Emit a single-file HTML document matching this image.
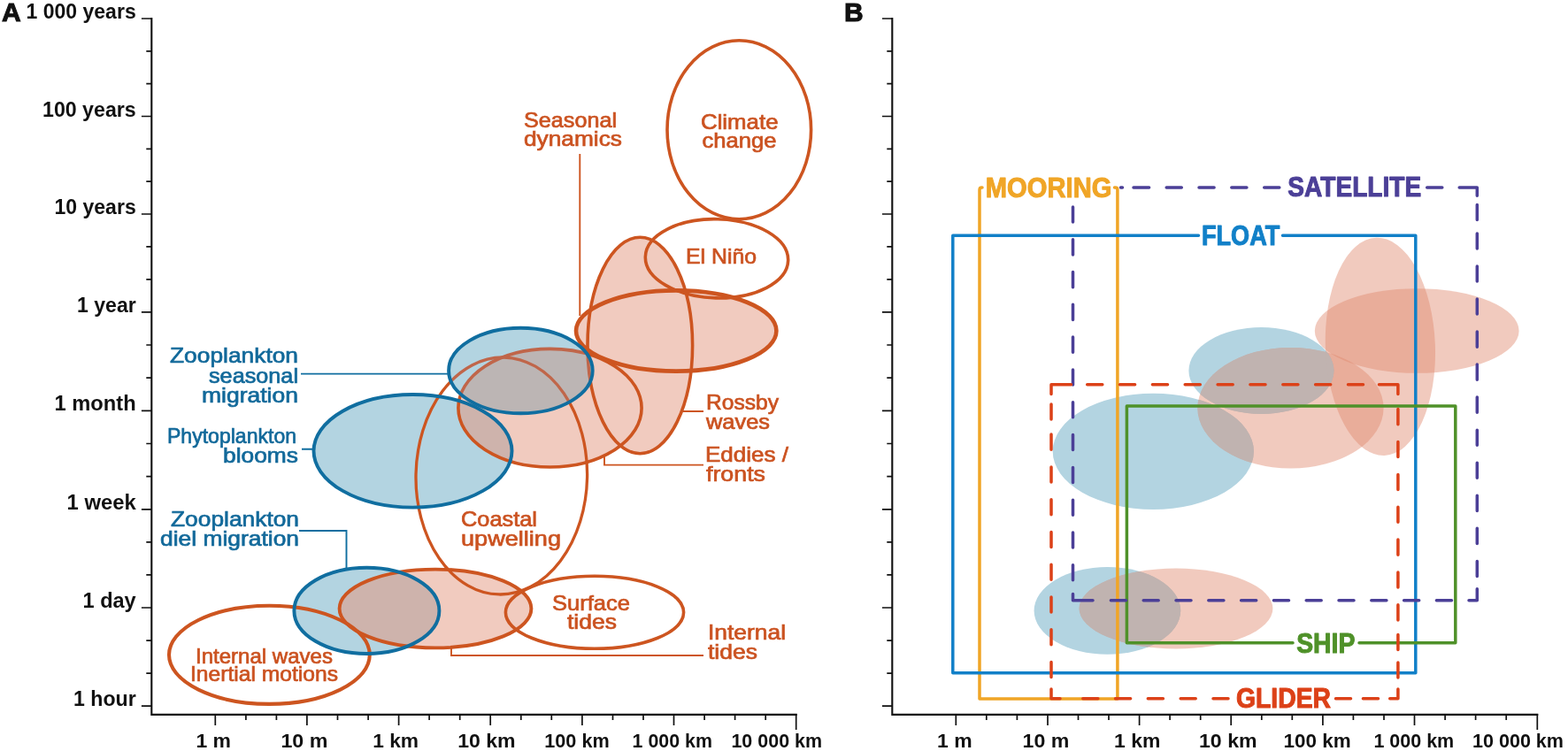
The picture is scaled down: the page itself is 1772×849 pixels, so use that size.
<!DOCTYPE html>
<html lang="en"><head><meta charset="utf-8"><title>Ocean processes and observing platforms: time and space scales</title>
<style>
html,body{margin:0;padding:0;background:#fff;}
body{width:1772px;height:849px;overflow:hidden;font-family:"Liberation Sans",sans-serif;}
svg{display:block;position:absolute;left:0;top:0;}
text{font-family:"Liberation Sans",sans-serif;white-space:pre;}
.ax{font-size:23px;font-weight:bold;fill:#111;}
.axx{font-size:21.2px;font-weight:bold;fill:#111;}
.pl{font-size:30px;font-weight:bold;fill:#111;stroke:#111;stroke-width:1px;}
.o{font-size:24px;fill:#cb5220;stroke:#cb5220;stroke-width:.7px;}
.b{font-size:24px;fill:#12699a;stroke:#12699a;stroke-width:.7px;}
.cap{font-size:30.5px;font-weight:bold;stroke-width:1px;stroke-linejoin:round;}
</style></head><body>
<svg width="1772" height="849" viewBox="0 0 1772 849">
<rect width="1772" height="849" fill="#fff"/>
<g id="panelA">
<path d="M171.3 20.0V807.9H900.7" fill="none" stroke="#111" stroke-width="2.1"/>
<path d="M159.9 21.0H171.3M165.3 57.8H171.3M165.3 94.7H171.3M159.9 131.5H171.3M165.3 168.3H171.3M165.3 205.2H171.3M159.9 242.0H171.3M165.3 278.9H171.3M165.3 315.9H171.3M159.9 352.8H171.3M165.3 390.0H171.3M165.3 427.1H171.3M159.9 464.3H171.3M165.3 501.5H171.3M165.3 538.6H171.3M159.9 575.8H171.3M165.3 612.9H171.3M165.3 649.9H171.3M159.9 687.0H171.3M165.3 724.1H171.3M165.3 761.1H171.3M159.9 798.2H171.3M243.3 807.9V819.9M277.9 807.9V813.9M312.4 807.9V813.9M346.9 807.9V819.9M381.5 807.9V813.9M416.1 807.9V813.9M450.6 807.9V819.9M485.1 807.9V813.9M519.7 807.9V813.9M554.2 807.9V819.9M588.8 807.9V813.9M623.3 807.9V813.9M657.9 807.9V819.9M692.5 807.9V813.9M727.0 807.9V813.9M761.5 807.9V819.9M796.1 807.9V813.9M830.6 807.9V813.9M865.2 807.9V813.9M899.7 806.9V824.9" fill="none" stroke="#111" stroke-width="1.7"/>
<text class="axx" x="221.4" y="845.4" textLength="39.6" lengthAdjust="spacingAndGlyphs">1 m</text>
<text class="axx" x="317.4" y="845.4" textLength="53.0" lengthAdjust="spacingAndGlyphs">10 m</text>
<text class="axx" x="421.2" y="845.4" textLength="51.9" lengthAdjust="spacingAndGlyphs">1 km</text>
<text class="axx" x="517.2" y="845.4" textLength="65.4" lengthAdjust="spacingAndGlyphs">10 km</text>
<text class="axx" x="615.3" y="845.4" textLength="73.4" lengthAdjust="spacingAndGlyphs">100 km</text>
<text class="axx" x="714.6" y="845.4" textLength="90.3" lengthAdjust="spacingAndGlyphs">1 000 km</text>
<text class="axx" x="826.4" y="845.4" textLength="102.7" lengthAdjust="spacingAndGlyphs">10 000 km</text>
<text class="ax" x="29.5" y="21.1" textLength="124.2" lengthAdjust="spacingAndGlyphs">1 000 years</text>
<text class="ax" x="48" y="131.6" textLength="105.7" lengthAdjust="spacingAndGlyphs">100 years</text>
<text class="ax" x="61.5" y="242.3" textLength="92.2" lengthAdjust="spacingAndGlyphs">10 years</text>
<text class="ax" x="87" y="353.0" textLength="66.7" lengthAdjust="spacingAndGlyphs">1 year</text>
<text class="ax" x="61.5" y="464.4" textLength="92.2" lengthAdjust="spacingAndGlyphs">1 month</text>
<text class="ax" x="75.5" y="575.9" textLength="78.2" lengthAdjust="spacingAndGlyphs">1 week</text>
<text class="ax" x="93.5" y="687.0" textLength="60.2" lengthAdjust="spacingAndGlyphs">1 day</text>
<text class="ax" x="83.1" y="798.2" textLength="70.6" lengthAdjust="spacingAndGlyphs">1 hour</text>
<text class="pl" x="2" y="24">A</text>
<defs><clipPath id="cbA"><ellipse cx="466.5" cy="509.8" rx="112" ry="63.8"/><ellipse cx="414.4" cy="690.4" rx="82" ry="48.6"/></clipPath><clipPath id="ctA"><ellipse cx="588.4" cy="419" rx="81.3" ry="48.2"/></clipPath></defs>
<g fill="#f1cbbf"><ellipse cx="621.5" cy="461.2" rx="103.6" ry="66.8"/><ellipse cx="723.3" cy="390.5" rx="59.3" ry="122.2"/><ellipse cx="764.2" cy="374" rx="113.2" ry="45.6"/><ellipse cx="492" cy="688" rx="108.4" ry="44.4"/></g>
<g clip-path="url(#cbA)">
<rect x="320" y="430" width="270" height="320" fill="#b3d4e1"/>
<g fill="#ceb3ac"><ellipse cx="621.5" cy="461.2" rx="103.6" ry="66.8"/><ellipse cx="723.3" cy="390.5" rx="59.3" ry="122.2"/><ellipse cx="764.2" cy="374" rx="113.2" ry="45.6"/><ellipse cx="492" cy="688" rx="108.4" ry="44.4"/></g>
</g>
<g fill="none" stroke="#cd5520"><ellipse cx="621.5" cy="461.2" rx="103.6" ry="66.8" stroke-width="3.6"/><ellipse cx="723.3" cy="390.5" rx="59.3" ry="122.2" stroke-width="3.6"/><ellipse cx="764.2" cy="374" rx="113.2" ry="45.6" stroke-width="4.6"/><ellipse cx="492" cy="688" rx="108.4" ry="44.4" stroke-width="3.9"/><ellipse cx="566.8" cy="538" rx="96.8" ry="134" stroke-width="3.3" transform="rotate(1.2 566.8 538)"/><ellipse cx="835.3" cy="146.75" rx="81.3" ry="101" stroke-width="3.6"/><ellipse cx="810" cy="292.3" rx="80.7" ry="44.6" stroke-width="3.6" transform="rotate(1.5 810 292.3)"/><ellipse cx="672" cy="692.3" rx="100.6" ry="41" stroke-width="3.6"/><ellipse cx="304.4" cy="740.3" rx="113.4" ry="55.6" stroke-width="4.1"/></g>
<g clip-path="url(#ctA)">
<rect x="500" y="360" width="180" height="120" fill="#b3d4e1"/>
<g fill="#bcb5b4"><ellipse cx="621.5" cy="461.2" rx="103.6" ry="66.8"/><ellipse cx="723.3" cy="390.5" rx="59.3" ry="122.2"/><ellipse cx="764.2" cy="374" rx="113.2" ry="45.6"/><ellipse cx="492" cy="688" rx="108.4" ry="44.4"/></g>
<g fill="none" stroke="#c0664a"><ellipse cx="621.5" cy="461.2" rx="103.6" ry="66.8" stroke-width="3.6"/><ellipse cx="723.3" cy="390.5" rx="59.3" ry="122.2" stroke-width="3.6"/><ellipse cx="764.2" cy="374" rx="113.2" ry="45.6" stroke-width="4.6"/><ellipse cx="492" cy="688" rx="108.4" ry="44.4" stroke-width="3.9"/><ellipse cx="566.8" cy="538" rx="96.8" ry="134" stroke-width="3.3" transform="rotate(1.2 566.8 538)"/><ellipse cx="835.3" cy="146.75" rx="81.3" ry="101" stroke-width="3.6"/><ellipse cx="810" cy="292.3" rx="80.7" ry="44.6" stroke-width="3.6" transform="rotate(1.5 810 292.3)"/><ellipse cx="672" cy="692.3" rx="100.6" ry="41" stroke-width="3.6"/><ellipse cx="304.4" cy="740.3" rx="113.4" ry="55.6" stroke-width="4.1"/></g>
</g>
<g fill="none" stroke="#106ea0" stroke-width="3.9"><ellipse cx="466.5" cy="509.8" rx="112" ry="63.8"/><ellipse cx="414.4" cy="690.4" rx="82" ry="48.6"/><ellipse cx="588.4" cy="419" rx="81.3" ry="48.2"/></g>
<g fill="none" stroke-width="1.9">
<path d="M655.3 174V357M772 465H795M683 516V525.6H795M510 733V741H795" stroke="#cd5520"/>
<path d="M340 422.6H507M341 507.7H354M338 600H391.5V643" stroke="#106ea0"/>
</g>
<text class="o" x="592" y="144.3" textLength="105" lengthAdjust="spacingAndGlyphs">Seasonal</text>
<text class="o" x="592" y="165" textLength="111" lengthAdjust="spacingAndGlyphs">dynamics</text>
<text class="o" x="792" y="145.8" textLength="87.5" lengthAdjust="spacingAndGlyphs">Climate</text>
<text class="o" x="793.5" y="166.5" textLength="84" lengthAdjust="spacingAndGlyphs">change</text>
<text class="o" x="775" y="298" textLength="80" lengthAdjust="spacingAndGlyphs">El Niño</text>
<text class="o" x="798" y="463" textLength="82" lengthAdjust="spacingAndGlyphs">Rossby</text>
<text class="o" x="798" y="485" textLength="72" lengthAdjust="spacingAndGlyphs">waves</text>
<text class="o" x="797" y="522" textLength="94" lengthAdjust="spacingAndGlyphs">Eddies /</text>
<text class="o" x="798" y="544" textLength="67" lengthAdjust="spacingAndGlyphs">fronts</text>
<text class="o" x="521" y="595" textLength="86" lengthAdjust="spacingAndGlyphs">Coastal</text>
<text class="o" x="521" y="617" textLength="113" lengthAdjust="spacingAndGlyphs">upwelling</text>
<text class="o" x="624" y="690" textLength="88" lengthAdjust="spacingAndGlyphs">Surface</text>
<text class="o" x="641" y="711" textLength="56" lengthAdjust="spacingAndGlyphs">tides</text>
<text class="o" x="800" y="723" textLength="88" lengthAdjust="spacingAndGlyphs">Internal</text>
<text class="o" x="800" y="745" textLength="56" lengthAdjust="spacingAndGlyphs">tides</text>
<text class="o" x="221" y="749.5" textLength="155" lengthAdjust="spacingAndGlyphs">Internal waves</text>
<text class="o" x="215" y="770" textLength="167" lengthAdjust="spacingAndGlyphs">Inertial motions</text>
<text class="b" x="192" y="410" textLength="145" lengthAdjust="spacingAndGlyphs">Zooplankton</text>
<text class="b" x="236" y="433" textLength="101" lengthAdjust="spacingAndGlyphs">seasonal</text>
<text class="b" x="228" y="455.2" textLength="109" lengthAdjust="spacingAndGlyphs">migration</text>
<text class="b" x="189" y="501" textLength="146" lengthAdjust="spacingAndGlyphs">Phytoplankton</text>
<text class="b" x="252" y="523.2" textLength="85" lengthAdjust="spacingAndGlyphs">blooms</text>
<text class="b" x="193" y="594.8" textLength="145" lengthAdjust="spacingAndGlyphs">Zooplankton</text>
<text class="b" x="181" y="617.2" textLength="157" lengthAdjust="spacingAndGlyphs">diel migration</text>
</g>
<g id="panelB">
<path d="M1008.3 20.0V807.9H1738.3" fill="none" stroke="#111" stroke-width="2.1"/>
<path d="M996.9 21.0H1008.3M1002.3 57.8H1008.3M1002.3 94.7H1008.3M996.9 131.5H1008.3M1002.3 168.3H1008.3M1002.3 205.2H1008.3M996.9 242.0H1008.3M1002.3 278.9H1008.3M1002.3 315.9H1008.3M996.9 352.8H1008.3M1002.3 390.0H1008.3M1002.3 427.1H1008.3M996.9 464.3H1008.3M1002.3 501.5H1008.3M1002.3 538.6H1008.3M996.9 575.8H1008.3M1002.3 612.9H1008.3M1002.3 649.9H1008.3M996.9 687.0H1008.3M1002.3 724.1H1008.3M1002.3 761.1H1008.3M996.9 798.2H1008.3M1080.3 807.9V819.9M1114.8 807.9V813.9M1149.4 807.9V813.9M1184.0 807.9V819.9M1218.5 807.9V813.9M1253.0 807.9V813.9M1287.6 807.9V819.9M1322.1 807.9V813.9M1356.7 807.9V813.9M1391.2 807.9V819.9M1425.8 807.9V813.9M1460.3 807.9V813.9M1494.9 807.9V819.9M1529.4 807.9V813.9M1564.0 807.9V813.9M1598.5 807.9V819.9M1633.1 807.9V813.9M1667.6 807.9V813.9M1702.2 807.9V813.9M1737.3 806.9V824.9" fill="none" stroke="#111" stroke-width="1.7"/>
<text class="axx" x="1059" y="845.4" textLength="39.6" lengthAdjust="spacingAndGlyphs">1 m</text>
<text class="axx" x="1155.5" y="845.4" textLength="52.8" lengthAdjust="spacingAndGlyphs">10 m</text>
<text class="axx" x="1259" y="845.4" textLength="52.3" lengthAdjust="spacingAndGlyphs">1 km</text>
<text class="axx" x="1355" y="845.4" textLength="65.6" lengthAdjust="spacingAndGlyphs">10 km</text>
<text class="axx" x="1450.5" y="845.4" textLength="76.1" lengthAdjust="spacingAndGlyphs">100 km</text>
<text class="axx" x="1552.4" y="845.4" textLength="90.8" lengthAdjust="spacingAndGlyphs">1 000 km</text>
<text class="axx" x="1664" y="845.4" textLength="103" lengthAdjust="spacingAndGlyphs">10 000 km</text>
<text class="pl" x="954" y="24">B</text>
<defs><clipPath id="ctB"><ellipse cx="1303.3" cy="510.3" rx="113.6" ry="65.6"/><ellipse cx="1251.4" cy="690.4" rx="82.8" ry="49.4"/><ellipse cx="1425.4" cy="419" rx="82" ry="48.9"/></clipPath></defs>
<g fill="#b3d4e1"><ellipse cx="1303.3" cy="510.3" rx="113.6" ry="65.6"/><ellipse cx="1251.4" cy="690.4" rx="82.8" ry="49.4"/><ellipse cx="1425.4" cy="419" rx="82" ry="48.9"/></g>
<g fill="#e08a6e" fill-opacity="0.45"><ellipse cx="1458.5" cy="461.2" rx="105.1" ry="68.3"/><ellipse cx="1559.9" cy="391.8" rx="62" ry="123.2" transform="rotate(-2.2 1559.9 391.8)"/><ellipse cx="1601.2" cy="374" rx="115.4" ry="47.8"/><ellipse cx="1329" cy="688" rx="109.4" ry="45.4"/></g>
<g clip-path="url(#ctB)" fill="#c0b3b0"><ellipse cx="1458.5" cy="461.2" rx="105.1" ry="68.3"/><ellipse cx="1559.9" cy="391.8" rx="62" ry="123.2" transform="rotate(-2.2 1559.9 391.8)"/><ellipse cx="1601.2" cy="374" rx="115.4" ry="47.8"/><ellipse cx="1329" cy="688" rx="109.4" ry="45.4"/></g>
<g fill="none" stroke-width="3.5" stroke-linecap="round" stroke-linejoin="round">
<path d="M1110 211.9H1109.5Q1107 211.9 1107 214.5V790H1262.9V214.5Q1262.9 211.9 1260.4 211.9H1259.5" stroke="#f0a526"/>
<path d="M1354.5 266.3H1076.8V760.8H1599.8V266.3H1449.5" stroke="#1180c8"/>
<path d="M1461 726.8H1273.4V459H1644.8V726.8H1536" stroke="#4f9129"/>
<path d="M1649.2 211.9H1669.3V221.3M1669.3 665.8V678.8H1660M1212.5 671.5V678.8H1235M1266.5 211.9H1268.5M1281 211.9H1298.6M1318.2 211.9H1335.3M1355.0 211.9H1372.1M1391.8 211.9H1408.9M1428.7 211.9H1445.8M1612.7 211.9H1629.8M1255.4 678.8H1272.5M1292.2 678.8H1309.2M1329.0 678.8H1346.0M1365.8 678.8H1382.9M1402.6 678.8H1419.7M1439.4 678.8H1456.5M1476.2 678.8H1493.2M1513.0 678.8H1530.0M1549.8 678.8H1566.9M1586.6 678.8H1603.7M1623.4 678.8H1640.5M1212.5 233.9V251.1M1212.5 270.8V287.9M1212.5 307.6V324.7M1212.5 344.3V361.4M1212.5 381.1V398.2M1212.5 417.9V435.1M1212.5 454.7V471.8M1212.5 491.5V508.6M1212.5 528.4V545.4M1212.5 565.2V582.2M1212.5 602.0V619.0M1212.5 638.8V655.8M1669.3 231.4V248.6M1669.3 263.9V281.1M1669.3 301.0V318.1M1669.3 338.0V355.1M1669.3 375.1V392.2M1669.3 412.1V429.2M1669.3 449.1V466.2M1669.3 486.2V503.3M1669.3 523.2V540.3M1669.3 560.3V577.4M1669.3 597.3V614.4M1669.3 634.4V651.4" stroke="#4b3f97"/>
<path d="M1188.0 445.5V434.7H1210.5M1558.5 434.7H1579.9V445.5M1188.0 779V789.8H1198M1570.7 789.8H1579.9V779M1228.7 434.7H1245.8M1265.5 434.7H1282.6M1302.4 434.7H1319.5M1339.2 434.7H1356.3M1376.1 434.7H1393.2M1412.9 434.7H1430.0M1449.8 434.7H1466.9M1486.6 434.7H1503.7M1523.5 434.7H1540.5M1223.8 789.8H1240.8M1260.5 789.8H1277.6M1297.3 789.8H1314.4M1334.2 789.8H1351.2M1371.0 789.8H1388.0M1509.5 789.8H1526.5M1540.4 789.8H1557.5M1188.0 456.9V474.1M1188.0 491.1V508.2M1188.0 527.9V545.0M1188.0 564.7V581.8M1188.0 601.4V618.5M1188.0 638.2V655.2M1188.0 674.9V692.0M1188.0 711.7V728.8M1188.0 748.4V765.5M1579.9 462.6V479.8M1579.9 499.5V516.6M1579.9 536.4V553.5M1579.9 573.2V590.3M1579.9 610.1V627.2M1579.9 647.0V664.0M1579.9 683.8V700.9M1579.9 717.6V734.6M1579.9 749.1V766.1" stroke="#dc4118"/>
</g>
<text class="cap" x="1113.8" y="223.2" textLength="142.6" lengthAdjust="spacingAndGlyphs" fill="#f0a526" stroke="#f0a526">MOORING</text>
<text class="cap" x="1455.3" y="222.3" textLength="150.9" lengthAdjust="spacingAndGlyphs" fill="#4b3f97" stroke="#4b3f97">SATELLITE</text>
<text class="cap" x="1358" y="276.8" textLength="88.3" lengthAdjust="spacingAndGlyphs" fill="#1180c8" stroke="#1180c8">FLOAT</text>
<text class="cap" x="1465.2" y="737.6" textLength="66.2" lengthAdjust="spacingAndGlyphs" fill="#4f9129" stroke="#4f9129">SHIP</text>
<text class="cap" x="1397" y="800.3" textLength="107" lengthAdjust="spacingAndGlyphs" fill="#dc4118" stroke="#dc4118">GLIDER</text>
</g>
</svg></body></html>
